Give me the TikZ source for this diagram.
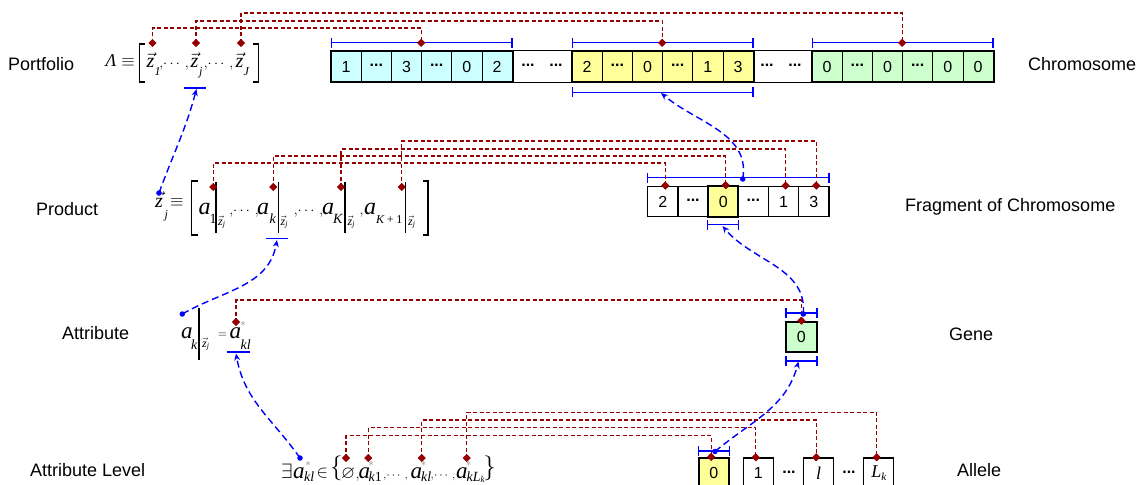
\documentclass[tikz,border=0pt]{standalone}
\usepackage[no-math]{fontspec}
\setmainfont{Liberation Sans}
\newfontfamily\tms{Liberation Serif}
\usepackage{amsmath,amssymb}
\usetikzlibrary{arrows.meta,shapes.geometric}
\definecolor{dred}{RGB}{150,0,0}
\definecolor{cyanc}{RGB}{204,255,255}
\definecolor{yelc}{RGB}{255,255,153}
\definecolor{grnc}{RGB}{204,255,204}
\newcommand{\mydots}{\raisebox{0.3ex}{\textbf{...}}}
\newcommand{\tv}[1]{\text{\tms\itshape #1}}
\begin{document}
\begin{tikzpicture}[x=1pt,y=-1pt,
  lbl/.style={font=\fontsize{18}{20}\selectfont, anchor=west, inner sep=0},
  cell/.style={draw, line width=0.8pt, minimum width=30.2pt, minimum height=30.6pt, inner sep=0, font=\fontsize{16}{16}\selectfont},
  dotsnode/.style={inner sep=0, font=\fontsize{16}{16}\selectfont},
  dmd/.style={diamond, fill=dred, inner sep=0, minimum size=8pt},
  rlink/.style={draw=dred, line width=1.1pt, dash pattern=on 4pt off 2.5pt},
  bdot/.style={circle, fill=blue, inner sep=0, minimum size=5.5pt},
  blink/.style={color=blue, line width=1.4pt, dash pattern=on 7pt off 4pt, -{Stealth[length=7pt,width=6pt]}},
  bbr/.style={color=blue, line width=1.3pt, {Bar[width=10pt]}-{Bar[width=10pt]}},
  uline/.style={color=blue, line width=1.3pt},
  mt/.style={inner sep=0, anchor=base west, font=\fontsize{18}{18}\selectfont},
  mz/.style={inner sep=0, anchor=base west, font=\fontsize{20}{20}\selectfont},
  ma/.style={inner sep=0, anchor=base west, font=\fontsize{24}{24}\selectfont},
  ms/.style={inner sep=0, anchor=base west, font=\fontsize{14}{14}\selectfont},
  mss/.style={inner sep=0, anchor=base west, font=\fontsize{12}{12}\selectfont},
  mc/.style={inner sep=0, anchor=base, font=\fontsize{14}{14}\selectfont},
  star/.style={inner sep=0, text=gray, font=\fontsize{11}{11}\selectfont},
  brk/.style={line width=1.1pt},
]
\useasboundingbox (0,0) rectangle (1139,484);
\clip (0,0) rectangle (1139,484);

% ---------- labels ----------
\node[lbl] (lPort) at (8,64) {Portfolio};
\node[lbl] (lProd) at (36,209) {Product};
\node[lbl] (lAttr) at (62,333) {Attribute};
\node[lbl] (lLev) at (30,470) {Attribute Level};
\node[lbl] (lChr) at (1028,64) {Chromosome};
\node[lbl] (lFrag) at (905,207) {Fragment of Chromosome};
\node[lbl] (lGene) at (949,334) {Gene};
\node[lbl] (lAll) at (957,470) {Allele};

% ---------- portfolio formula ----------
\node[mt, anchor=base east] (lam) at (135,67) {$\tv{Λ}\equiv$};
\draw[brk] (145,44) -- (139.5,44) -- (139.5,82) -- (145,82);
\draw[brk] (253,44) -- (258.5,44) -- (258.5,82) -- (253,82);
\node[mz] (z1) at (146.5,68) {$\vec{\tv{z}}$};
\node[mss] (z1s) at (154.5,76) {\tms\itshape 1};
\node[mc] (zc1) at (174,68) {$,\!\cdots,$};
\node[mz] (zj) at (190.5,68) {$\vec{\tv{z}}$};
\node[mss] (zjs) at (199,76) {\tms\itshape j};
\node[mc] (zc2) at (218.5,68) {$,\!\cdots,$};
\node[mz] (zJ) at (235.5,68) {$\vec{\tv{z}}$};
\node[mss] (zJs) at (243.5,76) {\tms\itshape J};
\draw[uline] (184,88) -- (206,88);
\coordinate (u1) at (196.5,89);

% ---------- chromosome ----------
\foreach \t [count=\i from 0] in {1,\mydots,3,\mydots,0,2}
  \node[cell, fill=cyanc] (ca\i) at ({346.1+30.2*\i},66.5) {\t};
\foreach \t [count=\i from 0] in {2,\mydots,0,\mydots,1,3}
  \node[cell, fill=yelc] (ya\i) at ({587.1+30.2*\i},66.5) {\t};
\foreach \t [count=\i from 0] in {0,\mydots,0,\mydots,0,0}
  \node[cell, fill=grnc] (ga\i) at ({827.1+30.2*\i},66.5) {\t};
\draw[line width=2pt] (ca0.north west) rectangle (ca5.south east);
\draw[line width=2pt] (ya0.north west) rectangle (ya5.south east);
\draw[line width=2pt] (ga0.north west) rectangle (ga5.south east);
\draw[line width=1pt] (ca5.north east) -- (ya0.north west) (ca5.south east) -- (ya0.south west);
\draw[line width=1pt] (ya5.north east) -- (ga0.north west) (ya5.south east) -- (ga0.south west);
\node[dotsnode] (gd1) at (528,66.5) {\mydots};
\node[dotsnode] (gd2) at (556,66.5) {\mydots};
\node[dotsnode] (gd3) at (767,66.5) {\mydots};
\node[dotsnode] (gd4) at (795,66.5) {\mydots};
\draw[bbr] ([yshift=8pt]ca0.north west) -- ([yshift=8pt]ca5.north east);
\draw[bbr] ([yshift=8pt]ya0.north west) -- ([yshift=8pt]ya5.north east);
\draw[bbr] ([yshift=8pt]ga0.north west) -- ([yshift=8pt]ga5.north east);
\draw[bbr] ([yshift=-10pt]ya0.south west) -- ([yshift=-10pt]ya5.south east);
\coordinate (u2) at (661,93);

% ---------- product formula ----------
\node[mz] (zjp) at (155,207) {$\vec{\tv{z}}$};
\node[mss] (zjps) at (164.5,218) {\tms\itshape j};
\node[mt] (eqp) at (170,206) {$\equiv$};
\draw[brk] (198,181) -- (191.5,181) -- (191.5,235) -- (198,235);
\draw[brk] (423,181) -- (428,181) -- (428,235) -- (423,235);
\node[ma] (a1) at (198.5,214) {\tms\itshape a};
\node[ms] (a1s) at (209.5,223) {\tms 1};
\draw[brk] (216,182) -- (216,233);
\node[mss] (a1z) at (218,225) {$\vec{\tv{z}}_{\tv{j}}$};
\node[mc] (pc1) at (244,214) {$,\!\cdots,$};
\node[ma] (ak) at (257,214) {\tms\itshape a};
\node[ms] (aks) at (269.5,223) {\tms\itshape k};
\draw[brk] (278.3,182) -- (278.3,233);
\node[mss] (akz) at (280.5,225) {$\vec{\tv{z}}_{\tv{j}}$};
\node[mc] (pc2) at (308.5,214) {$,\!\cdots,$};
\node[ma] (aK) at (322,214) {\tms\itshape a};
\node[ms] (aKs) at (333,223) {\tms\itshape K};
\draw[brk] (345,182) -- (345,233);
\node[mss] (aKz) at (347.5,225) {$\vec{\tv{z}}_{\tv{j}}$};
\node[mc] (pc3) at (361.5,214) {$,$};
\node[ma] (aK1) at (364,214) {\tms\itshape a};
\node[ms, font=\fontsize{12}{12}\selectfont] (aK1s) at (376,223) {\tms\itshape K\,+\,\upshape 1};
\draw[brk] (405.7,182) -- (405.7,233);
\node[mss] (aK1z) at (408,225) {$\vec{\tv{z}}_{\tv{j}}$};
\draw[uline] (265.7,238.7) -- (288,238.7);
\coordinate (u4) at (277,240);

% ---------- fragment ----------
\foreach \t [count=\i from 0] in {2,\mydots,0,\mydots,1,3}
  \node[cell, line width=1.2pt] (fr\i) at ({662.8+30.2*\i},201.5) {\t};
\node[cell, line width=2pt, fill=yelc] (fr2) at (723.2,201.5) {0};
\draw[bbr] ([yshift=8pt]fr0.north west) -- ([yshift=8pt]fr5.north east);
\draw[bbr] ([yshift=-7pt]fr2.south west) -- ([yshift=-7pt]fr2.south east);
\coordinate (u3) at (722.5,226);

% ---------- attribute ----------
\node[ma, font=\fontsize{23}{23}\selectfont] (at1) at (181,338) {\tms\itshape a};
\node[ms] (at1s) at (191,349) {\tms\itshape k};
\draw[brk] (199,308) -- (199,360);
\node[mss] (at1z) at (202,347) {$\vec{\tv{z}}_{\tv{j}}$};
\node[inner sep=0, font=\fontsize{12}{12}\selectfont] (ateq) at (222.5,335) {$=$};
\node[ma, font=\fontsize{23}{23}\selectfont] (at2) at (229.5,338) {\tms\itshape a};
\node[star] (at2st) at (243,324) {$*$};
\node[ms] (at2s) at (240.5,349) {\tms\itshape kl};
\draw[uline] (226.7,352) -- (250,352);
\coordinate (u5) at (236,353.5);

% ---------- gene ----------
\node[cell, line width=2pt, fill=grnc] (gene) at (801.4,337) {0};
\draw[bbr] ([yshift=7.7pt]gene.north west) -- ([yshift=7.7pt]gene.north east);
\draw[bbr] ([yshift=-7.7pt]gene.south west) -- ([yshift=-7.7pt]gene.south east);
\coordinate (u6) at (798.5,361.5);

% ---------- attribute level ----------
\node[ma, font=\fontsize{22}{22}\selectfont] (ex) at (281,478) {$\exists$};
\node[ma, font=\fontsize{23}{23}\selectfont] (l0) at (293,478) {\tms\itshape a};
\node[star] (l0st) at (308,464) {$*$};
\node[ms] (l0s) at (304,481) {\tms\itshape kl};
\node[ma, font=\fontsize{18}{18}\selectfont] (lin) at (316.5,477) {$\in$};
\node[ma, font=\fontsize{30}{30}\selectfont] (lbr) at (330,474.5) {$\{$};
\node[ma, font=\fontsize{18}{18}\selectfont] (lemp) at (341,478) {$\varnothing$};
\node[mc] (lc0) at (357.5,478) {$,$};
\node[ma, font=\fontsize{23}{23}\selectfont] (l1) at (358.5,478) {\tms\itshape a};
\node[star] (l1st) at (371,464) {$*$};
\node[ms] (l1s) at (368.5,481) {\tms\itshape k\upshape 1};
\node[mc, font=\fontsize{13}{13}\selectfont] (lc1) at (395.5,478) {$,\!\cdots,$};
\node[ma, font=\fontsize{23}{23}\selectfont] (l2) at (410.5,478) {\tms\itshape a};
\node[star] (l2st) at (423.5,464) {$*$};
\node[ms] (l2s) at (421,481) {\tms\itshape kl};
\node[mc, font=\fontsize{13}{13}\selectfont] (lc2) at (443,478) {$,\!\cdots,$};
\node[ma, font=\fontsize{23}{23}\selectfont] (l3) at (456,478) {\tms\itshape a};
\node[star] (l3st) at (468.5,464) {$*$};
\node[ms] (l3s) at (466.5,481) {\tms\itshape kL\raisebox{-0.3ex}{\fontsize{9}{9}\selectfont k}};
\node[ma, anchor=base east, font=\fontsize{30}{30}\selectfont] (lbr2) at (496,474.5) {$\}$};

% ---------- allele ----------
\node[cell, line width=2pt, fill=yelc] (al0) at (713.7,473.2) {0};
\node[cell, line width=1.2pt] (al1) at (758.3,473.2) {1};
\node[dotsnode] (ald1) at (789,473.2) {\mydots};
\node[cell, line width=1.2pt, font=\fontsize{18}{18}\selectfont] (all) at (818.7,473.2) {\tms\itshape l};
\node[dotsnode] (ald2) at (849,473.2) {\mydots};
\node[cell, line width=1.2pt, font=\fontsize{18}{18}\selectfont] (alL) at (878.7,473.2) {\tms\itshape L\raisebox{-0.35ex}{\fontsize{11}{11}\selectfont k}};
\draw[bbr] ([yshift=6pt]al0.north west) -- ([yshift=6pt]al0.north east);

% ---------- red links ----------
\node[dmd] (pz1) at (152.5,43) {};
\node[dmd] (pzj) at (196,43) {};
\node[dmd] (pzJ) at (241,43) {};
\node[dmd] (cdA) at ([yshift=8pt]ca3.north west) {};
\node[dmd] (cdB) at ([yshift=8pt]ya3.north west) {};
\node[dmd] (cdC) at ([yshift=8pt]ga3.north west) {};
\node[dmd] (pa1) at (213.3,187) {};
\node[dmd] (pak) at (273.3,187) {};
\node[dmd] (paK) at (341,187) {};
\node[dmd] (paK1) at (401.7,187) {};
\node[dmd] (fd0) at ([xshift=2.5pt]fr0.north) {};
\node[dmd] (fd2) at ([xshift=2.5pt]fr2.north) {};
\node[dmd] (fd4) at ([xshift=2pt]fr4.north) {};
\node[dmd] (fd5) at ([xshift=2.5pt]fr5.north) {};
\node[dmd] (atd) at (236,322) {};
\node[dmd] (gd) at (gene.north) {};
\node[dmd] (ld0) at (346,458) {};
\node[dmd] (ld1) at (368.3,458) {};
\node[dmd] (ld2) at (421.7,458) {};
\node[dmd] (ld3) at (466.7,458) {};
\node[dmd] (ad0) at ([xshift=-2.5pt]al0.north) {};
\node[dmd] (ad1) at ([xshift=-2.5pt]al1.north) {};
\node[dmd] (ad2) at ([xshift=-2.5pt]all.north) {};
\node[dmd] (ad3) at ([xshift=-2pt]alL.north) {};

\draw[rlink] (pz1.center) -- ++(0,-15) -| (cdA.center);
\draw[rlink] (pzj.center) -- ++(0,-22) -| (cdB.center);
\draw[rlink] (pzJ.center) -- ++(0,-30) -| (cdC.center);
\draw[rlink] (pa1.center) -- ++(0,-24) -| (fd0.center);
\draw[rlink] (pak.center) -- ++(0,-31) -| (fd2.center);
\draw[rlink] (paK.center) -- ++(0,-38) -| (fd4.center);
\draw[rlink] (paK1.center) -- ++(0,-46) -| (fd5.center);
\draw[rlink] (atd.center) -- ++(0,-22) -| (gd.center);
\draw[rlink] (ld0.center) -- ++(0,-22.3) -| (ad0.center);
\draw[rlink] (ld1.center) -- ++(0,-30.3) -| (ad1.center);
\draw[rlink] (ld2.center) -- ++(0,-38) -| (ad2.center);
\draw[rlink] (ld3.center) -- ++(0,-45.7) -| (ad3.center);
\foreach \n in {pz1,pzj,pzJ,cdA,cdB,cdC,pa1,pak,paK,paK1,fd0,fd2,fd4,fd5,atd,gd,ld0,ld1,ld2,ld3,ad0,ad1,ad2,ad3}
  \node[dmd] at (\n.center) {};

% ---------- blue links ----------
\node[bdot] (d1) at (159,193) {};
\node[bdot] (d2) at (742.7,179) {};
\node[bdot] (d3) at (803.3,314) {};
\node[bdot] (d4) at (182.3,314) {};
\node[bdot] (d5) at (300,458) {};
\node[bdot] (d6) at (715,451.5) {};
\draw[blink] (d1.center) to[out=70,in=-105] (u1);
\draw[blink] (d2.center) to[out=80,in=-40] (u2);
\draw[blink] (d3.center) to[out=85,in=-50] (u3);
\draw[blink] (d4.center) to[out=30,in=-100] (u4);
\draw[blink] (d5.center) to[out=125,in=-80] (u5);
\draw[blink] (d6.center) to[out=40,in=-105] (u6);
\end{tikzpicture}
\end{document}
